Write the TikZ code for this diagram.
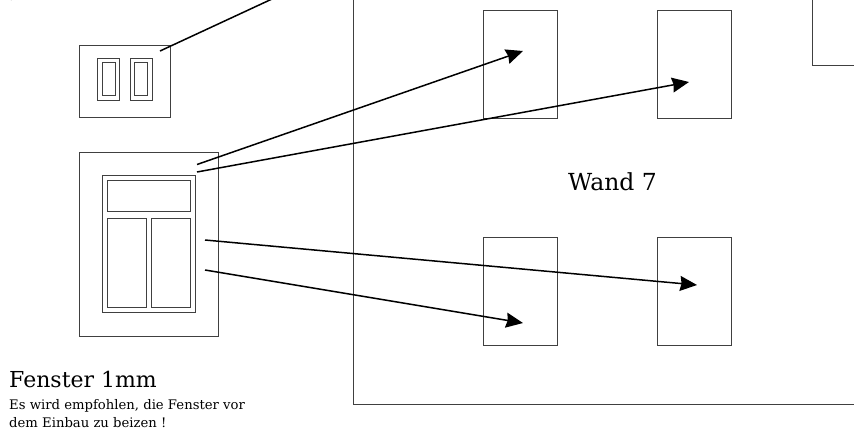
\documentclass[tikz,border=0pt]{standalone}
\usepackage{fontspec}
\setmainfont{DejaVu Serif}
\usetikzlibrary{arrows.meta}
\tikzset{
  box/.style={draw=black!75,line width=0.8pt,fill=none},
  conn/.style={draw=black,line width=1.5pt},
  arrowconn/.style={conn,-{Stealth[length=17pt,width=15pt,inset=1.5pt]}},
  big/.style={anchor=base west,inner sep=0pt,font=\fontsize{22}{24}\selectfont},
  small/.style={anchor=base west,inner sep=0pt,font=\fontsize{13.2}{15}\selectfont},
  opening/.style={box,minimum width=74pt,minimum height=108pt,anchor=north west,inner sep=0pt}
}
\begin{document}
\begin{tikzpicture}[x=1pt,y=-1pt]
\useasboundingbox (0,0) rectangle (854,432);
\clip (0,0) rectangle (854,432);
% circle fragment
\draw[black,line width=1pt] (11,0) arc[start angle=20.5,end angle=-37.6,radius=77];
% small window
\draw[box] (79,45) rectangle (170,117);
\draw[box] (97,58) rectangle (119.5,100);
\draw[box] (102,62) rectangle (115,95);
\draw[box] (130,58) rectangle (152.5,100);
\draw[box] (134.5,62) rectangle (147.5,95);
% large window
\draw[box] (79.5,152) rectangle (218.5,336);
\draw[box] (102.5,175) rectangle (195,312.5);
\draw[box] (107.5,180.5) rectangle (190,211);
\draw[box] (107.5,218.5) rectangle (146.5,307.5);
\draw[box] (151.5,218.5) rectangle (190,307.5);
% wall
\draw[box] (353,-2) -- (353,404) -- (856,404);
\node[opening] (o1) at (483,10) {};
\node[opening] (o2) at (657,10) {};
\node[opening] (o3) at (483,237) {};
\node[opening] (o4) at (657,237) {};
\draw[box] (812.5,-2) -- (812.5,65) -- (856,65);
% connector ends
\coordinate (s0) at (160,51);
\coordinate (e0) at (272,-1);
\coordinate (s1) at (197,164.5);
\coordinate (e1) at (523,51);
\coordinate (s2) at (197,172);
\coordinate (e2) at (689,82);
\coordinate (s3) at (205,240);
\coordinate (e3) at (697,285);
\coordinate (s4) at (205,270);
\coordinate (e4) at (523,323);
\draw[conn] (s0) -- (e0);
\draw[arrowconn] (s1) -- (e1);
\draw[arrowconn] (s2) -- (e2);
\draw[arrowconn] (s3) -- (e3);
\draw[arrowconn] (s4) -- (e4);
% labels
\node[big,font=\fontsize{23.5}{26}\selectfont] (wand) at (568,190) {Wand 7};
\node[big] (fenster) at (9,387) {Fenster 1mm};
\node[small] (t1) at (9,409) {Es wird empfohlen, die Fenster vor};
\node[small] (t2) at (9,427) {dem Einbau zu beizen !};
\end{tikzpicture}
\end{document}
